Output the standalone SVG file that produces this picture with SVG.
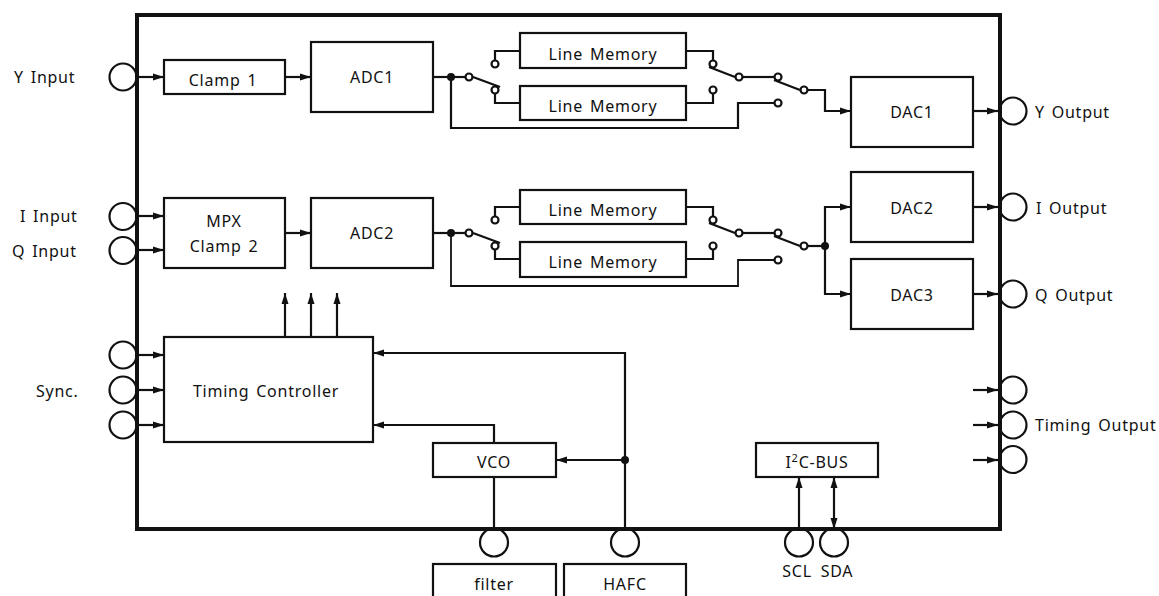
<svg xmlns="http://www.w3.org/2000/svg" width="1159" height="596" viewBox="0 0 1159 596">
<style>
text{font-family:"Noto Sans","Open Sans",sans-serif;font-size:16px;fill:#111;letter-spacing:.75px;word-spacing:2px}
.m{text-anchor:middle}
.b{fill:#fff;stroke:#111;stroke-width:2.2}
.p{fill:#fff;stroke:#111;stroke-width:2.2}
.s{fill:#fff;stroke:#111;stroke-width:2.2}
.w{fill:none;stroke:#111;stroke-width:2.2}
.a{marker-end:url(#ah)}
.d{fill:#111}
</style>
<defs>
<marker id="ah" markerUnits="userSpaceOnUse" markerWidth="12" markerHeight="10" refX="11" refY="5" orient="auto"><path d="M0 1.5L11 5L0 8.5Z" fill="#111"/></marker>
<marker id="ahs" markerUnits="userSpaceOnUse" markerWidth="12" markerHeight="10" refX="1" refY="5" orient="auto"><path d="M12 1.5L1 5L12 8.5Z" fill="#111"/></marker>
</defs>
<g id="connectors">
<path class="w a" d="M137 77H164"/><path class="w a" d="M283 77H311"/>
<path class="w" d="M433 77H465"/><path class="w" d="M473 77L500 87"/><path class="w" d="M495 60V51H520"/><path class="w" d="M495 94V103H520"/>
<path class="w" d="M686 51H713V60"/><path class="w" d="M686 103H713V94"/><path class="w" d="M709 67L735 77"/><path class="w" d="M743 77H774"/><path class="w" d="M774 80L800 90"/>
<path class="w a" d="M808 90H825V111H851"/><path class="w" d="M451 77V128H738V103H774"/>
<path class="w a" d="M137 216H164"/><path class="w a" d="M137 250H164"/><path class="w a" d="M285 233H311"/>
<path class="w" d="M433 233H465"/><path class="w" d="M473 233L500 243"/><path class="w" d="M495 216V207H520"/><path class="w" d="M495 250V259H520"/>
<path class="w" d="M686 207H713V216"/><path class="w" d="M686 259H713V250"/><path class="w" d="M709 223L735 233"/><path class="w" d="M743 233H774"/><path class="w" d="M774 236L800 246"/>
<path class="w" d="M808 246H825"/><path class="w a" d="M825 246V207H851"/><path class="w a" d="M825 246V294H851"/><path class="w" style="stroke-width:1.8" d="M451 233V286H738V260H774"/>
<path class="w a" d="M973 111H998"/><path class="w a" d="M973 207H998"/><path class="w a" d="M973 294H998"/>
<path class="w a" d="M973 390H998"/><path class="w a" d="M973 425H998"/><path class="w a" d="M973 460H998"/>
<path class="w a" d="M285 337V293"/><path class="w a" d="M311 337V293"/><path class="w a" d="M337 337V293"/>
<path class="w a" d="M137 355H164"/><path class="w a" d="M137 390H164"/><path class="w a" d="M137 425H164"/>
<path class="w a" d="M625 529V353H373"/><path class="w a" d="M625 460H556"/><path class="w a" d="M494 443V425H373"/><path class="w" d="M494 477V529"/>
<path class="w a" d="M799 529V477"/><path class="w" style="marker-start:url(#ahs);marker-end:url(#ah)" d="M834 477V529"/>
</g>
<g id="y-input"><circle class="p" cx="123" cy="77" r="13.5"/><text x="14" y="83">Y Input</text></g>
<g id="i-input"><circle class="p" cx="123" cy="216.500" r="13.5"/><text x="20" y="222">I Input</text></g>
<g id="q-input"><circle class="p" cx="123" cy="250.500" r="13.5"/><text x="12" y="257">Q Input</text></g>
<g id="sync"><circle class="p" cx="123" cy="355" r="13.5"/><circle class="p" cx="123" cy="390" r="13.5"/><circle class="p" cx="123" cy="425" r="13.5"/><text x="36" y="397">Sync.</text></g>
<g id="clamp1"><rect class="b" x="164" y="60" width="121" height="34"/><text class="m" x="223" y="86">Clamp 1</text></g>
<g id="adc1"><rect class="b" x="311" y="42" width="122" height="70"/><text class="m" x="372" y="83">ADC1</text></g>
<g id="mem1"><rect class="b" x="520" y="33" width="166" height="35"/><text class="m" x="603" y="60">Line Memory</text></g>
<g id="mem2"><rect class="b" x="520" y="86" width="166" height="34"/><text class="m" x="603" y="112">Line Memory</text></g>
<g id="dac1"><rect class="b" x="851" y="77" width="122" height="70"/><text class="m" x="912" y="118">DAC1</text></g>
<g id="mpx"><rect class="b" x="164" y="198" width="121" height="70"/><text class="m" x="224" y="227">MPX</text><text class="m" x="224" y="252">Clamp 2</text></g>
<g id="adc2"><rect class="b" x="311" y="198" width="122" height="70"/><text class="m" x="372" y="239">ADC2</text></g>
<g id="mem3"><rect class="b" x="520" y="190" width="166" height="34"/><text class="m" x="603" y="216">Line Memory</text></g>
<g id="mem4"><rect class="b" x="520" y="242" width="166" height="35"/><text class="m" x="603" y="268">Line Memory</text></g>
<g id="dac2"><rect class="b" x="851" y="172" width="122" height="70"/><text class="m" x="912" y="214">DAC2</text></g>
<g id="dac3"><rect class="b" x="851" y="259" width="122" height="70"/><text class="m" x="912" y="301">DAC3</text></g>
<g id="timing"><rect class="b" x="164" y="337" width="209" height="105"/><text class="m" x="266" y="397">Timing Controller</text></g>
<g id="vco"><rect class="b" x="433" y="443" width="123" height="34"/><text class="m" x="494" y="468">VCO</text></g>
<g id="i2c"><rect class="b" x="756" y="443" width="122" height="34"/><text class="m" x="817" y="468">I<tspan font-size="11" dy="-6">2</tspan><tspan dy="6">C-BUS</tspan></text></g>
<g id="filter"><circle class="p" cx="494" cy="542.500" r="14"/><rect class="b" x="433" y="564" width="123" height="40"/><text class="m" x="494" y="590">filter</text></g>
<g id="hafc"><circle class="p" cx="625" cy="542.500" r="14"/><rect class="b" x="564" y="564" width="122" height="40"/><text class="m" x="625" y="590">HAFC</text></g>
<g id="scl"><circle class="p" cx="799" cy="542.500" r="14"/><text class="m" x="797" y="577">SCL</text></g>
<g id="sda"><circle class="p" cx="834" cy="542.500" r="14"/><text class="m" x="837" y="577">SDA</text></g>
<g id="y-output"><circle class="p" cx="1013" cy="111" r="13.5"/><text x="1035" y="118">Y Output</text></g>
<g id="i-output"><circle class="p" cx="1013" cy="207" r="13.5"/><text x="1036" y="214">I Output</text></g>
<g id="q-output"><circle class="p" cx="1013" cy="294" r="13.5"/><text x="1035" y="301">Q Output</text></g>
<g id="timing-output"><circle class="p" cx="1013" cy="390" r="13.5"/><circle class="p" cx="1013" cy="425" r="13.5"/><circle class="p" cx="1013" cy="459.500" r="13.5"/><text x="1035" y="431">Timing Output</text></g>
<g id="switches">
<circle class="d" cx="451" cy="77" r="4"/><circle class="s" cx="469" cy="77" r="3.5"/><circle class="s" cx="495" cy="64" r="3.5"/><circle class="s" cx="495" cy="90" r="3.5"/><circle class="s" cx="713" cy="64" r="3.5"/><circle class="s" cx="713" cy="90" r="3.5"/><circle class="s" cx="739" cy="77" r="3.5"/><circle class="s" cx="778" cy="77" r="3.5"/><circle class="s" cx="804" cy="90" r="3.5"/><circle class="s" cx="778" cy="103" r="3.5"/>
<circle class="d" cx="451" cy="233" r="4"/><circle class="s" cx="469" cy="233" r="3.5"/><circle class="s" cx="495" cy="220" r="3.5"/><circle class="s" cx="495" cy="246" r="3.5"/><circle class="s" cx="713" cy="220" r="3.5"/><circle class="s" cx="713" cy="246" r="3.5"/><circle class="s" cx="739" cy="233" r="3.5"/><circle class="s" cx="778" cy="233" r="3.5"/><circle class="s" cx="804" cy="246" r="3.5"/><circle class="s" cx="778" cy="260" r="3.5"/>
<circle class="d" cx="825" cy="246" r="4"/><circle class="d" cx="625" cy="460" r="4"/>
</g>
<g id="frame"><rect x="137" y="15" width="863" height="514" fill="none" stroke="#111" stroke-width="4"/></g>
</svg>
